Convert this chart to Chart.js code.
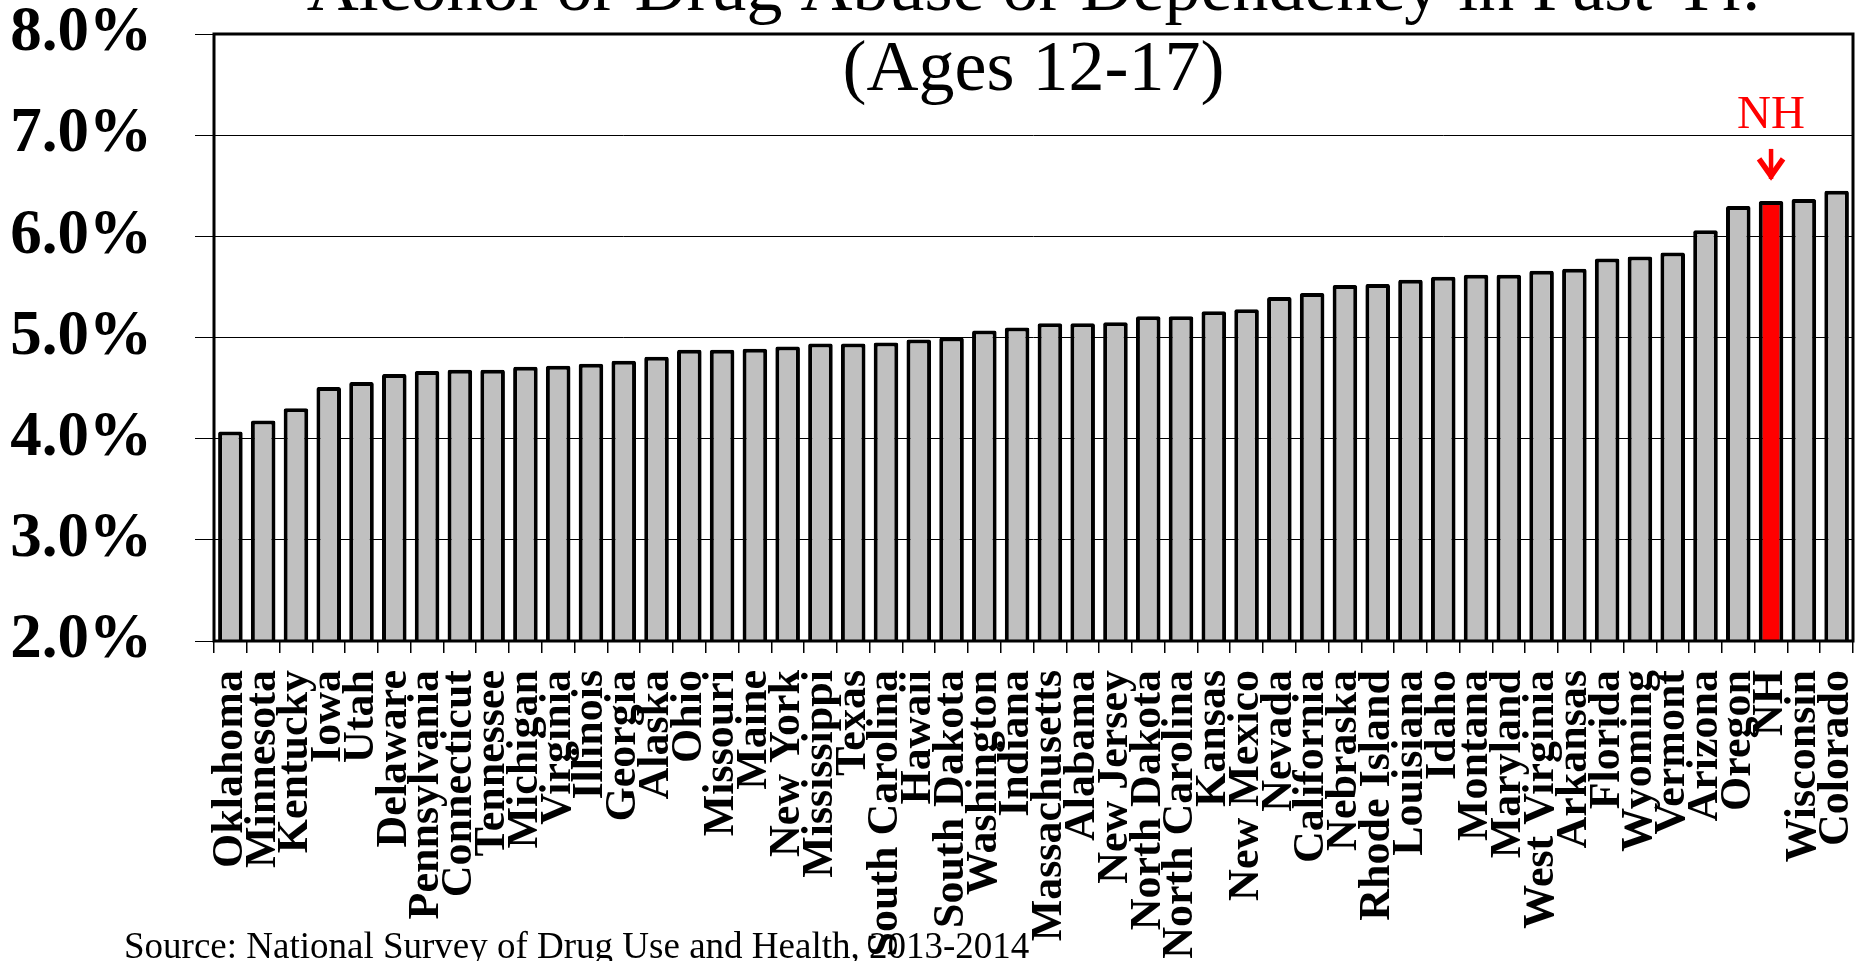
<!DOCTYPE html>
<html>
<head>
<meta charset="utf-8">
<script src="https://cdn.jsdelivr.net/npm/chart.js@4.4.0/dist/chart.umd.min.js"></script>
<style>
  html, body { margin: 0; padding: 0; background: #ffffff; }
  #wrap { width: 1858px; height: 961px; position: relative; }
</style>
</head>
<body>
<div id="wrap"><canvas id="c"></canvas></div>
<script>
const titleLines = ['Alcohol or Drug Abuse or Dependency in Past Yr.', '(Ages 12-17)'];
const sourceText = 'Source: National Survey of Drug Use and Health, 2013-2014';
const highlightLabel = 'NH';

const categories = [
  'Oklahoma', 'Minnesota', 'Kentucky', 'Iowa', 'Utah', 'Delaware', 'Pennsylvania',
  'Connecticut', 'Tennessee', 'Michigan', 'Virginia', 'Illinois', 'Georgia', 'Alaska',
  'Ohio', 'Missouri', 'Maine', 'New York', 'Mississippi', 'Texas', 'South Carolina',
  'Hawaii', 'South Dakota', 'Washington', 'Indiana', 'Massachusetts', 'Alabama',
  'New Jersey', 'North Dakota', 'North Carolina', 'Kansas', 'New Mexico', 'Nevada',
  'California', 'Nebraska', 'Rhode Island', 'Louisiana', 'Idaho', 'Montana', 'Maryland',
  'West Virginia', 'Arkansas', 'Florida', 'Wyoming', 'Vermont', 'Arizona', 'Oregon',
  'NH', 'Wisconsin', 'Colorado'
];

const values = [
  4.07, 4.18, 4.30, 4.51, 4.56, 4.64, 4.67,
  4.68, 4.68, 4.71, 4.72, 4.74, 4.77, 4.81,
  4.88, 4.88, 4.89, 4.91, 4.94, 4.94, 4.95,
  4.98, 5.00, 5.07, 5.10, 5.14, 5.14,
  5.15, 5.21, 5.21, 5.26, 5.28, 5.40,
  5.44, 5.52, 5.53, 5.57, 5.60, 5.62, 5.62,
  5.66, 5.68, 5.78, 5.80, 5.84, 6.06, 6.30,
  6.35, 6.37, 6.45
];

const yTickValues = [2, 3, 4, 5, 6, 7, 8];
const yTickLabels = ['2.0%', '3.0%', '4.0%', '5.0%', '6.0%', '7.0%', '8.0%'];

const GRAY = '#C0C0C0';
const RED = '#FF0000';
const SERIF = '"Liberation Serif", "Times New Roman", Times, serif';

const overlayPlugin = {
  id: 'overlay',
  afterDatasetsDraw(chart) {
    const ctx = chart.ctx;
    const a = chart.chartArea;
    ctx.save();
    ctx.strokeStyle = '#000000';
    ctx.lineWidth = 3;
    ctx.strokeRect(a.left, a.top, a.right - a.left, a.bottom - a.top);
    ctx.restore();
  },
  afterDraw(chart) {
    const ctx = chart.ctx;
    const a = chart.chartArea;
    const xs = chart.scales.x;
    const ys = chart.scales.y;
    ctx.save();
    ctx.fillStyle = '#000000';
    ctx.font = '72px ' + SERIF;
    ctx.textAlign = 'center';
    ctx.textBaseline = 'alphabetic';
    const cx = (a.left + a.right) / 2;
    ctx.fillText(titleLines[0], cx, 10);
    ctx.fillText(titleLines[1], cx, 90);

    const idx = categories.indexOf(highlightLabel);
    if (idx >= 0) {
      const bx = xs.getPixelForValue(idx);
      const by = ys.getPixelForValue(values[idx]);
      ctx.fillStyle = RED;
      ctx.strokeStyle = RED;
      ctx.font = '47px ' + SERIF;
      ctx.textAlign = 'center';
      ctx.fillText(highlightLabel, bx, by - 73);
      const tip = by - 17;
      ctx.lineWidth = 4.5;
      ctx.lineCap = 'butt';
      ctx.beginPath();
      ctx.moveTo(bx, by - 52);
      ctx.lineTo(bx, tip - 5);
      ctx.stroke();
      ctx.lineWidth = 5.5;
      ctx.lineJoin = 'miter';
      ctx.miterLimit = 10;
      ctx.beginPath();
      ctx.moveTo(bx - 12, tip - 25);
      ctx.lineTo(bx, tip - 8);
      ctx.lineTo(bx + 12, tip - 25);
      ctx.stroke();
    }

    ctx.fillStyle = '#000000';
    ctx.font = '37px ' + SERIF;
    ctx.textAlign = 'left';
    ctx.fillText(sourceText, 124, 958);
    ctx.restore();
  }
};

new Chart(document.getElementById('c'), {
  type: 'bar',
  data: {
    labels: categories,
    datasets: [{
      data: values,
      backgroundColor: categories.map(c => c === highlightLabel ? RED : GRAY),
      borderColor: '#000000',
      borderWidth: 4,
      borderRadius: 2,
      borderSkipped: 'start',
      inflateAmount: 0,
      categoryPercentage: 1.0,
      barPercentage: 0.75
    }]
  },
  options: {
    responsive: true,
    maintainAspectRatio: false,
    animation: false,
    layout: { padding: { left: 0, right: 5, top: 34, bottom: 0 } },
    plugins: {
      legend: { display: false },
      title: { display: false },
      tooltip: { enabled: false }
    },
    scales: {
      x: {
        offset: true,
        border: { display: false },
        grid: {
          offset: true,
          drawOnChartArea: false,
          drawTicks: true,
          tickLength: 12,
          color: '#000000',
          lineWidth: 1.5
        },
        ticks: {
          autoSkip: false,
          minRotation: 90,
          maxRotation: 90,
          padding: 17,
          color: '#000000',
          font: { family: SERIF, size: 44, weight: 'bold', lineHeight: 1.0 }
        },
        afterFit(scale) {
          scale.height = 320;
          scale.paddingLeft = 0;
          scale.paddingRight = 0;
        }
      },
      y: {
        min: 2,
        max: 8,
        border: { display: false },
        grid: {
          color: '#000000',
          lineWidth: 1,
          drawTicks: true,
          tickLength: 19
        },
        afterBuildTicks(scale) {
          scale.ticks = yTickValues.map(v => ({ value: v }));
        },
        ticks: {
          padding: 43,
          color: '#000000',
          font: { family: SERIF, size: 63, weight: 'bold', lineHeight: 1.0 },
          callback(value) {
            const i = yTickValues.indexOf(value);
            return i >= 0 ? yTickLabels[i] : '';
          }
        },
        afterFit(scale) {
          scale.width = 214;
          scale.paddingTop = 0;
          scale.paddingBottom = 0;
        }
      }
    }
  },
  plugins: [overlayPlugin]
});
</script>
</body>
</html>
